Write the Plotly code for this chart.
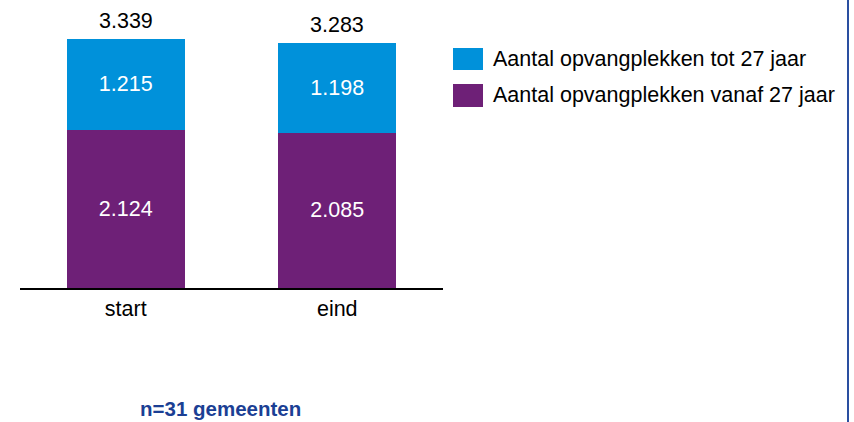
import plotly.graph_objects as go

categories = ["start", "eind"]
vanaf_27 = [2124, 2085]
tot_27 = [1215, 1198]
totals = [3339, 3283]
series_names = ["Aantal opvangplekken tot 27 jaar", "Aantal opvangplekken vanaf 27 jaar"]
note = "n=31 gemeenten"

BLUE = "#0091DA"
PURPLE = "#6E2077"
FONT = "Liberation Sans, Arial, sans-serif"
W, H = 854, 422
FS = 21.5


def nl(v):
    return f"{v:,}".replace(",", ".")


fig = go.Figure()
fig.add_trace(go.Bar(
    x=categories, y=vanaf_27, name=series_names[1], marker=dict(color=PURPLE, line=dict(width=0)),
    texttemplate="%{y:,}", textposition="inside", insidetextanchor="middle", textangle=0,
    textfont=dict(color="white", size=FS, family=FONT), width=0.56,
))
fig.add_trace(go.Bar(
    x=categories, y=tot_27, name=series_names[0], marker=dict(color=BLUE, line=dict(width=0)),
    texttemplate="%{y:,}", textposition="inside", insidetextanchor="middle", textangle=0,
    textfont=dict(color="white", size=FS, family=FONT), width=0.56,
))

# totals above bars
for c, t in zip(categories, totals):
    fig.add_annotation(x=c, y=t, xref="x", yref="y", text=nl(t), showarrow=False,
                       yanchor="middle", yshift=18, font=dict(size=FS, color="black", family=FONT))

x0, x1 = 20, 443
ybot, ytop = 288, 10
px_per_unit = 249 / 3339
ymax = (ybot - ytop) / px_per_unit

# manual legend
legend_items = [(series_names[0], BLUE, 48, 70), (series_names[1], PURPLE, 84, 107)]
for name, col, ya, yb in legend_items:
    fig.add_shape(type="rect", xref="paper", yref="paper",
                  x0=453 / W, x1=483 / W, y0=1 - yb / H, y1=1 - ya / H,
                  fillcolor=col, line=dict(width=0))
    fig.add_annotation(xref="paper", yref="paper", x=491 / W, y=1 - ((ya + yb) / 2) / H,
                       text=name, showarrow=False, xanchor="left", yanchor="middle",
                       font=dict(size=FS, color="black", family=FONT))

# note
fig.add_annotation(xref="paper", yref="paper", x=220 / W, y=1 - 408 / H, text=f"<b>{note}</b>",
                   showarrow=False, xanchor="center", yanchor="middle",
                   font=dict(size=FS - 1, color="#1B3F94", family=FONT))

# right border line
fig.add_shape(type="line", xref="paper", yref="paper", x0=848 / W, x1=848 / W, y0=0, y1=1,
              line=dict(color="#2A4FA0", width=2))

fig.update_layout(
    width=W, height=H, margin=dict(l=0, r=0, t=0, b=0),
    paper_bgcolor="white", plot_bgcolor="white",
    barmode="stack", showlegend=False, separators=",.",
    font=dict(family=FONT, size=FS, color="black"),
    uniformtext=dict(mode="show", minsize=10),
    xaxis=dict(domain=[x0 / W, x1 / W], range=[-0.5, 1.5], showline=True, linecolor="black",
               linewidth=1.5, ticks="", showgrid=False, zeroline=False,
               tickfont=dict(size=FS, color="black", family=FONT)),
    yaxis=dict(domain=[1 - ybot / H, 1 - ytop / H], range=[0, ymax], visible=False,
               showgrid=False, zeroline=False),
)

fig.write_html("out.html", config={"displayModeBar": False},
               post_script="document.body.style.margin='0';document.body.style.overflow='hidden';")
